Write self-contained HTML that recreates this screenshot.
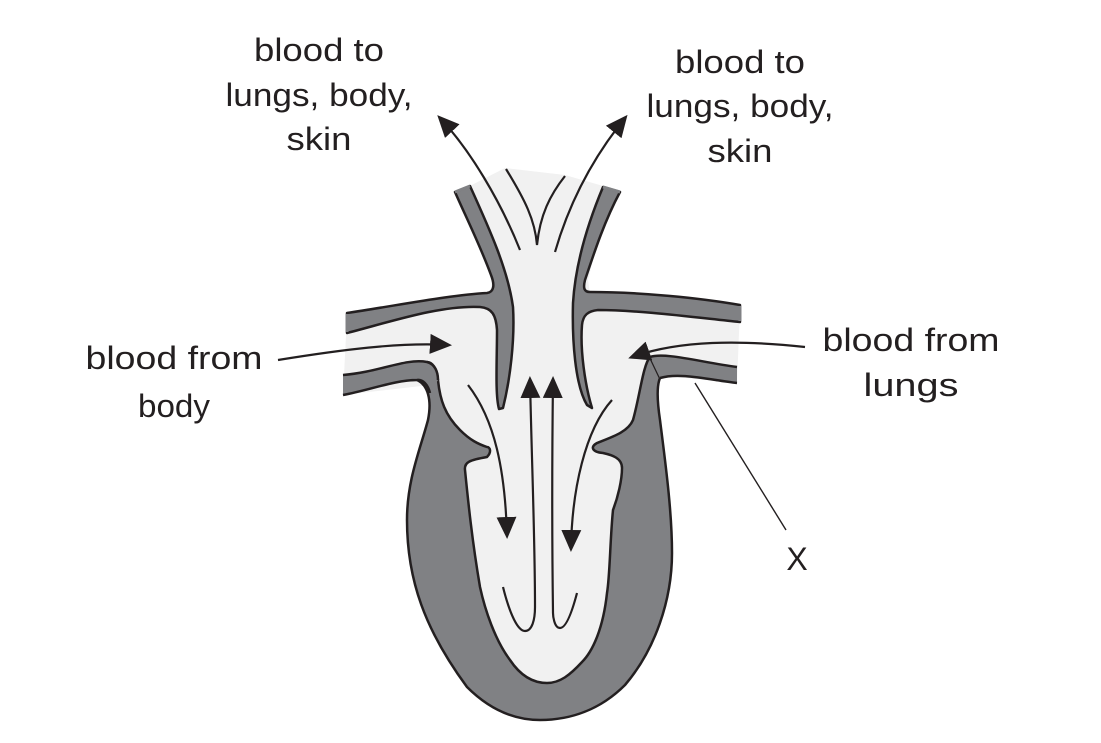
<!DOCTYPE html>
<html><head><style>
html,body{margin:0;padding:0;background:#fff;}
svg{display:block;}
text{font-family:"Liberation Sans",sans-serif;font-size:32px;fill:#231f20;}
</style></head><body>
<svg width="1101" height="743" viewBox="0 0 1101 743" xmlns="http://www.w3.org/2000/svg">
<defs>
<marker id="ahb" markerWidth="22" markerHeight="20" refX="18" refY="10" orient="auto" markerUnits="userSpaceOnUse">
<path d="M0,0 L22,10 L0,20 Z" fill="#231f20"/>
</marker>
</defs>
<g stroke="#231f20" stroke-width="2.5" stroke-linejoin="round">
<path d="M458,192 L505,168 L565,175 L617,190 C605,220 595,250 588,280 L590,295 L740,308 L737,383 L655,375 L640,420 L600,450 L470,450 L440,420 L430,385 L343,395 L347,316 L490,296 L492,280 C480,245 468,215 458,192 Z" fill="#f1f1f1" stroke="none"/>
<path d="M487,447 C478,444 470,440 460,430 L600,430 C595,440 590,447 603,453 C612,455 622,458 622,468 C622,480 618,497 613,510 C610,540 610,575 607,593 C603,630 592,652 582,662 C570,675 560,683 547,683 C530,683 518,672 510,660 C495,640 485,610 480,587 C472,540 468,500 465,470 C464,462 470,460 487,457 Z" fill="#f1f1f1" stroke="none"/>
<path d="M417,380 C428,385 432,400 428,420 C420,450 407,480 407,520 C407,580 425,630 467,687 C490,710 515,720 540,720 C570,720 600,710 625,685 C655,650 672,600 672,553 C672,510 665,460 660,420 C657,400 657,385 660,378 L650,357 C643,365 640,395 633,420 C628,432 612,437 597,443 C590,447 592,452 603,453 C612,455 622,458 622,468 C622,480 618,497 613,510 C610,540 610,575 607,593 C603,630 592,652 582,662 C570,675 560,683 547,683 C530,683 518,672 510,660 C495,640 485,610 480,587 C472,540 468,500 465,470 C464,462 470,460 487,457 C492,452 490,447 487,447 C478,444 470,440 460,430 C445,415 440,400 438,380 C437,368 432,362 427,362" fill="#808184"/>
<path d="M343,375 C380,372 405,358 427,362 C435,364 438,372 438,380 L430,393 C428,385 423,379 417,380 C395,380 370,390 343,395 Z" fill="#808184" stroke="none"/>
<path d="M343,375 C380,372 405,358 427,362 C435,364 438,372 438,380" fill="none"/>
<path d="M343,395 C370,390 395,380 417,380 C423,379 428,385 430,393" fill="none"/>
<path d="M650,357 C665,352 700,362 737,367 L737,383 C710,380 680,372 660,378 Z" fill="#808184" stroke="none"/>
<path d="M650,357 C665,352 700,362 737,367" fill="none"/>
<path d="M660,378 C680,372 710,380 737,383" fill="none"/>
<path d="M455,192 L470,186 C490,230 508,270 513,307 C515,340 510,380 503,408 L499,409 C495,395 497,360 497,330 C496,315 492,308 480,307 C440,305 390,322 347,333 L347,313 C400,305 450,295 487,293 C494,292 495,285 491,275 C480,245 465,215 455,192 Z" fill="#808184"/>
<path d="M620,192 L603,187 C585,230 575,270 573,303 C572,340 575,385 587,405 L592,408 C585,385 580,350 582,325 C583,315 588,311 598,310 C640,310 700,318 740,322 L740,305 C700,298 640,292 590,292 C584,292 583,288 585,280 C595,250 605,220 620,192 Z" fill="#808184"/>
<path d="M455,192 L470,186" stroke="#808184" stroke-width="3"/>
<path d="M620,192 L603,187" stroke="#808184" stroke-width="3"/>
<path d="M347,314 L347,332" stroke="#808184" stroke-width="3"/>
<path d="M740,306 L740,321" stroke="#808184" stroke-width="3"/>
</g>
<g stroke="#231f20" stroke-width="2.2" fill="none">
<path d="M506,169 C525,200 535,220 537,245 C540,215 550,195 565,176"/>
<path d="M520,250 C500,200 470,150 440,118" marker-end="url(#ahb)"/>
<path d="M555,252 C570,200 595,155 625,118" marker-end="url(#ahb)"/>
<path d="M503,587 C510,615 518,631 525,631 C532,631 535,620 535,607 C535,540 532,470 530,380" marker-end="url(#ahb)"/>
<path d="M577,593 C572,612 566,628 560,628 C554,628 553,615 553,613 C552,540 552,460 553,380" marker-end="url(#ahb)"/>
<path d="M468,385 C495,420 505,470 507,535" marker-end="url(#ahb)"/>
<path d="M612,400 C585,430 572,490 571,548" marker-end="url(#ahb)"/>
<path d="M278,360 C340,350 400,342 448,345" marker-end="url(#ahb)"/>
<path d="M805,347 C740,340 680,340 632,357" marker-end="url(#ahb)"/>
</g>
<line x1="695" y1="383" x2="786" y2="530" stroke="#231f20" stroke-width="1.4"/>
<g text-anchor="middle">
<text x="319" y="61" textLength="130" lengthAdjust="spacingAndGlyphs">blood to</text>
<text x="319" y="106" textLength="187" lengthAdjust="spacingAndGlyphs">lungs, body,</text>
<text x="319" y="150" textLength="65" lengthAdjust="spacingAndGlyphs">skin</text>
<text x="740" y="73" textLength="130" lengthAdjust="spacingAndGlyphs">blood to</text>
<text x="740" y="117" textLength="187" lengthAdjust="spacingAndGlyphs">lungs, body,</text>
<text x="740" y="162" textLength="65" lengthAdjust="spacingAndGlyphs">skin</text>
<text x="174" y="369" textLength="177" lengthAdjust="spacingAndGlyphs">blood from</text>
<text x="174" y="417" textLength="72" lengthAdjust="spacingAndGlyphs">body</text>
<text x="911" y="351" textLength="177" lengthAdjust="spacingAndGlyphs">blood from</text>
<text x="911" y="396" textLength="95" lengthAdjust="spacingAndGlyphs">lungs</text>
<text x="797" y="570">X</text>
</g>
</svg>
</body></html>
